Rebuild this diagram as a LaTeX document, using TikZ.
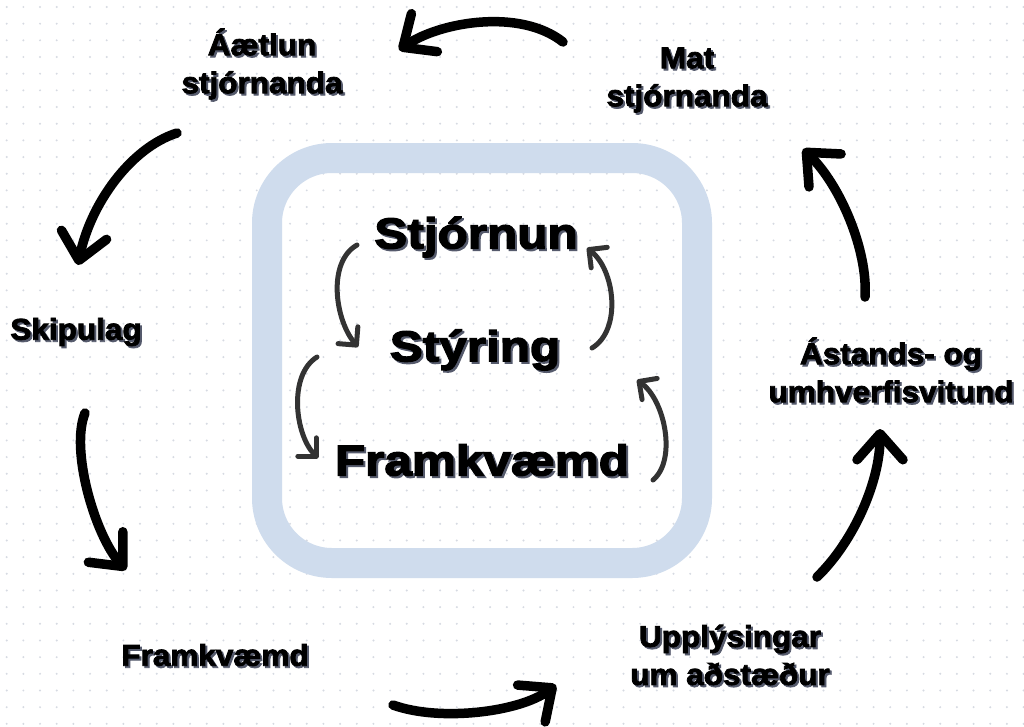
\documentclass[tikz,border=0pt]{standalone}
\usepackage{fontspec}
\setmainfont{Liberation Sans}
\newfontfamily\labelfont{Liberation Sans Bold}[FakeBold=2.6,FakeStretch=1.05]
\newfontfamily\corefont{Liberation Sans Bold}[FakeBold=3.2,FakeStretch=1.15]
\usetikzlibrary{arrows.meta}
\definecolor{mydots}{RGB}{214,218,226}
\definecolor{myframe}{RGB}{207,220,237}
\definecolor{myshadow}{RGB}{85,90,108}
\definecolor{myarrow}{RGB}{51,51,51}
\tikzset{
  outerlabel/.style={align=center, inner sep=0pt,
    font=\labelfont\fontsize{30}{38}\selectfont},
  corelabel/.style={inner sep=0pt,
    font=\corefont\fontsize{43}{50}\selectfont},
  frame/.style={rectangle, draw=myframe, line width=30pt,
    minimum width=430pt, minimum height=405pt, rounded corners=65pt},
  bigarrow/.style={line width=9.5pt, line cap=round,
    -{Straight Barb[length=26pt, width=46pt, round]}},
  smallarrow/.style={myarrow, line width=5pt, line cap=round,
    -{Straight Barb[length=13pt, width=26pt, round]}}
}
% text with a grey drop shadow
\newcommand{\shadowlabel}[4]{%
  \node[#3, text=myshadow, xshift=2pt, yshift=-2pt] at #2 {#4};
  \node[#3] (#1) at #2 {#4};}

\begin{document}
\begin{tikzpicture}[x=1pt, y=-1pt]
  \useasboundingbox[fill=white] (0,0) rectangle (1024,726);

  % dotted paper
  \foreach \i in {0,...,61}
    \foreach \j in {0,...,43}
      \fill[mydots] (6.7+16.67*\i, 7+16.67*\j) circle (1.1pt);

  % inner frame
  \node[frame] (box) at (482,360.5) {};

  % outer cycle labels
  \shadowlabel{aetlun}{(262,64)}{outerlabel}{Áætlun\\stjórnanda}
  \shadowlabel{mat}{(687,80)}{outerlabel}{Mat\\stjórnanda}
  \shadowlabel{skipulag}{(76,332)}{outerlabel}{Skipulag}
  \shadowlabel{framkv}{(215,655)}{outerlabel}{Framkvæmd}
  \shadowlabel{upplys}{(730,655)}{outerlabel}{Upplýsingar\\um aðstæður}
  \shadowlabel{astand}{(891,370)}{outerlabel}{Ástands- og\\umhverfisvitund}

  % inner cycle labels
  \shadowlabel{stjorn}{(476,237)}{corelabel}{Stjórnun}
  \shadowlabel{styring}{(475,350)}{corelabel}{Stýring}
  \shadowlabel{framkvin}{(482,460)}{corelabel}{Framkvæmd}

  % arrow ends
  \coordinate (matA) at (563,42);   \coordinate (aetlunB) at (399,50);
  \coordinate (aetlunA) at (177,133); \coordinate (skipB) at (78,265);
  \coordinate (skipA) at (85,413);  \coordinate (framkvB) at (126,570);
  \coordinate (framkvA) at (393,705); \coordinate (upplysB) at (556,685);
  \coordinate (upplysA) at (817,577); \coordinate (astandB) at (880,429);
  \coordinate (astandA) at (865,297); \coordinate (matB) at (803,149);

  \coordinate (stjornA) at (357,245); \coordinate (styringB) at (358,347);
  \coordinate (styringA) at (317,357); \coordinate (framkvinB) at (318,458);
  \coordinate (styringC) at (592,348); \coordinate (stjornB) at (587,248);
  \coordinate (framkvinA) at (653,480); \coordinate (styringD) at (637,380);

  % outer cycle
  \draw[bigarrow] (matA) .. controls (520,8) and (440,22) .. (aetlunB);
  \draw[bigarrow] (aetlunA) .. controls (130,148) and (90,205) .. (skipB);
  \draw[bigarrow] (skipA) .. controls (70,450) and (95,535) .. (framkvB);
  \draw[bigarrow] (framkvA) .. controls (440,722) and (520,712) .. (upplysB);
  \draw[bigarrow] (upplysA) .. controls (855,540) and (880,480) .. (astandB);
  \draw[bigarrow] (astandA) .. controls (868,250) and (840,185) .. (matB);

  % inner cycle
  \draw[smallarrow] (stjornA) .. controls (327,262) and (335,320) .. (styringB);
  \draw[smallarrow] (styringA) .. controls (288,375) and (295,435) .. (framkvinB);
  \draw[smallarrow] (styringC) .. controls (622,330) and (615,270) .. (stjornB);
  \draw[smallarrow] (framkvinA) .. controls (677,460) and (665,400) .. (styringD);
\end{tikzpicture}
\end{document}
